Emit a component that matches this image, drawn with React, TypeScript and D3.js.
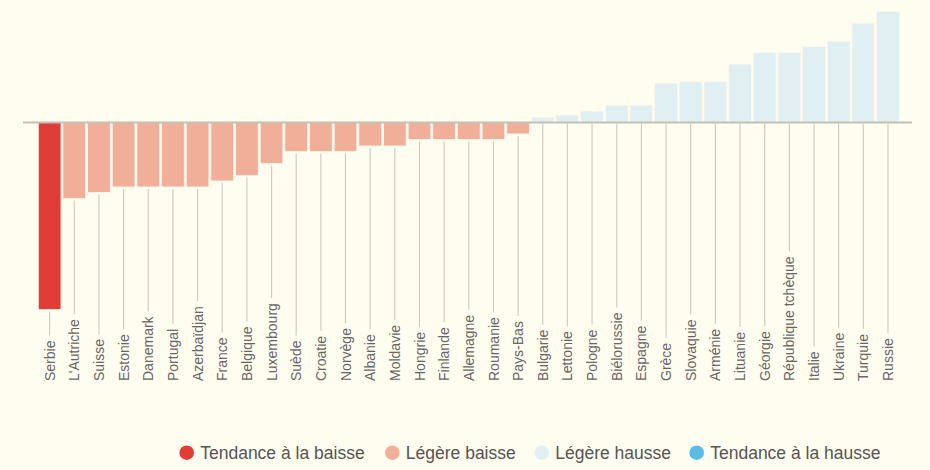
import React, { useEffect, useRef } from "react";
import * as d3 from "d3";

const countries = [
  "Serbie", "L'Autriche", "Suisse", "Estonie", "Danemark", "Portugal", "Azerbaïdjan",
  "France", "Belgique", "Luxembourg", "Suède", "Croatie", "Norvège", "Albanie",
  "Moldavie", "Hongrie", "Finlande", "Allemagne", "Roumanie", "Pays-Bas", "Bulgarie",
  "Lettonie", "Pologne", "Biélorussie", "Espagne", "Grèce", "Slovaquie", "Arménie",
  "Lituanie", "Géorgie", "République tchèque", "Italie", "Ukraine", "Turquie", "Russie",
];

const values = [
  -187, -76, -70, -64.5, -64.5, -64.5, -64.5,
  -58.5, -53, -41, -29, -29, -29, -23.5,
  -23.5, -17, -17, -17, -17, -11.5, 5.3,
  7.3, 11.3, 17.3, 17.3, 39.3, 40.7, 40.7,
  58.3, 70, 70, 75.7, 81.3, 99.3, 110.7,
];

// 0 = Tendance à la baisse, 1 = Légère baisse, 2 = Légère hausse, 3 = Tendance à la hausse
const categoryIndex = [
  0, 1, 1, 1, 1, 1, 1,
  1, 1, 1, 1, 1, 1, 1,
  1, 1, 1, 1, 1, 1, 2,
  2, 2, 2, 2, 2, 2, 2,
  2, 2, 2, 2, 2, 2, 2,
];

const legendLabels = ["Tendance à la baisse", "Légère baisse", "Légère hausse", "Tendance à la hausse"];
const legendColors = ["#e03d36", "#f1ae98", "#dfeff2", "#5bbde5"];

const W = 930;
const H = 470;
const BG = "#fffdef";

export default function App() {
  const ref = useRef<SVGSVGElement | null>(null);

  useEffect(() => {
    document.body.style.margin = "0";
    document.body.style.background = BG;
    const svg = d3.select(ref.current);
    svg.selectAll("*").remove();

    const x = d3.scaleBand<string>()
      .domain(countries)
      .range([37.3, 900.3])
      .paddingInner(0.08)
      .paddingOuter(0.04);

    const y = d3.scaleLinear()
      .domain([d3.min(values) as number, d3.max(values) as number])
      .range([309.5, 11.7]);

    const y0 = y(0);
    const labelEnd = 381;
    const font = "'Liberation Sans', Arial, sans-serif";

    svg.append("rect").attr("width", W).attr("height", H).attr("fill", BG);

    const data = countries.map((c, i) => ({ c, v: values[i], k: categoryIndex[i] }));

    // labels
    const labels = svg.append("g")
      .selectAll("text")
      .data(data)
      .join("text")
      .attr("transform", (d) => `translate(${(x(d.c) as number) + x.bandwidth() / 2},${labelEnd}) rotate(-90)`)
      .attr("text-anchor", "start")
      .attr("dy", "0.36em")
      .attr("font-family", font)
      .attr("font-size", 14)
      .attr("fill", "#666")
      .text((d) => d.c);

    const lengths: number[] = [];
    labels.each(function () {
      lengths.push((this as SVGTextElement).getComputedTextLength());
    });

    // tick lines
    svg.append("g")
      .selectAll("line")
      .data(data)
      .join("line")
      .attr("x1", (d) => (x(d.c) as number) + x.bandwidth() / 2)
      .attr("x2", (d) => (x(d.c) as number) + x.bandwidth() / 2)
      .attr("y1", (d) => (d.v < 0 ? y(d.v) + 2 : y0 + 1))
      .attr("y2", (d, i) => labelEnd - lengths[i] - 5)
      .attr("stroke", "#cfcdc2")
      .attr("stroke-width", 1.2);

    // bars
    svg.append("g")
      .selectAll("rect")
      .data(data)
      .join("rect")
      .attr("x", (d) => x(d.c) as number)
      .attr("width", x.bandwidth())
      .attr("y", (d) => Math.min(y(d.v), y0))
      .attr("height", (d) => Math.abs(y(d.v) - y0))
      .attr("fill", (d) => legendColors[d.k])
      .attr("stroke", "#fff6ea")
      .attr("stroke-width", 0.8);

    // baseline
    svg.append("line")
      .attr("x1", 23)
      .attr("x2", 912)
      .attr("y1", y0)
      .attr("y2", y0)
      .attr("stroke", "#c3c0b4")
      .attr("stroke-width", 2);

    // legend
    const legendX = [186.7, 392.3, 541.7, 696.7];
    const lg = svg.append("g")
      .selectAll("g")
      .data(legendLabels)
      .join("g")
      .attr("transform", (d, i) => `translate(${legendX[i]},452.7)`);
    lg.append("circle").attr("r", 7.3).attr("fill", (d, i) => legendColors[i]);
    lg.append("text")
      .attr("x", 13.5)
      .attr("dy", "0.35em")
      .attr("font-family", font)
      .attr("font-size", 17.5)
      .attr("fill", "#555")
      .text((d) => d);
  }, []);

  return (
    <svg
      ref={ref}
      width={W}
      height={H}
      style={{ position: "absolute", left: 0, top: 0, display: "block" }}
    />
  );
}
